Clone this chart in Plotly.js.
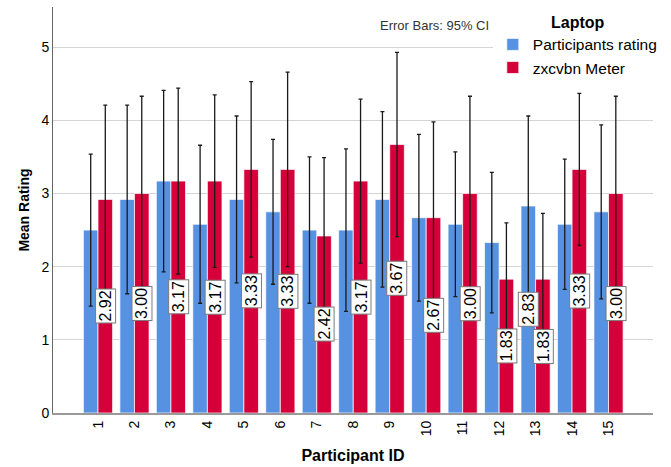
<!DOCTYPE html>
<html>
<head>
<meta charset="utf-8">
<script src="https://cdn.plot.ly/plotly-3.0.1.min.js"></script>
<style>
html,body{margin:0;padding:0;background:#fff;}
#chart{width:671px;height:467px;}
</style>
</head>
<body>
<div id="chart"></div>
<script>
const participantIds = [1,2,3,4,5,6,7,8,9,10,11,12,13,14,15];
const tickLabels = ["1","2","3","4","5","6","7","8","9","10","11","12","13","14","15"];
const participantsRating = [2.50,2.92,3.17,2.58,2.92,2.75,2.50,2.50,2.92,2.67,2.58,2.33,2.83,2.58,2.75];
const zxcvbnMeter = [2.92,3.00,3.17,3.17,3.33,3.33,2.42,3.17,3.67,2.67,3.00,1.83,1.83,3.33,3.00];
const participantsCI = [1.04,1.29,1.24,1.08,1.14,0.99,1.00,1.11,1.20,1.14,0.99,0.96,1.23,0.89,1.19];
const zxcvbnCI = [1.29,1.33,1.27,1.18,1.20,1.33,1.07,1.12,1.26,1.31,1.33,0.77,0.90,1.04,1.33];
const blueLabelIds = [13];

const FONT = '"Liberation Sans", Arial, sans-serif';
const blue = '#5792E2';
const red = '#D5003A';

const errStyle = {type:'data', visible:true, color:'#1a1a1a', thickness:1.3, width:2};

const traces = [
  {type:'bar', name:'Participants rating', x:participantIds, y:participantsRating,
   marker:{color:blue, line:{color:'rgba(255,255,255,0.7)', width:1}},
   error_y:Object.assign({array:participantsCI}, errStyle), hoverinfo:'none'},
  {type:'bar', name:'zxcvbn Meter', x:participantIds, y:zxcvbnMeter,
   marker:{color:red, line:{color:'rgba(255,255,255,0.7)', width:1}},
   error_y:Object.assign({array:zxcvbnCI}, errStyle), hoverinfo:'none'}
];

const bargap = 0.2;
const half = (1 - bargap) / 4; // centre offset of each bar in a group

function labelAnn(x, v){
  return {xref:'x', yref:'y', x:x, y:v/2, text:v.toFixed(2), showarrow:false,
    textangle:-90, bgcolor:'#ffffff', bordercolor:'#7a7a7a', borderwidth:1, borderpad:1,
    font:{family:FONT, size:16, color:'#000'}};
}
const annotations = [];
participantIds.forEach((id,i)=>{
  annotations.push(labelAnn(id + half, zxcvbnMeter[i]));
  if (blueLabelIds.includes(id)) annotations.push(labelAnn(id - half, participantsRating[i]));
});
annotations.push({xref:'paper', yref:'paper', x:0.5417, y:0.955, xanchor:'left', yanchor:'middle',
  text:'Error Bars: 95% CI', showarrow:false, font:{family:FONT, size:13, color:'#333'}});

const layout = {
  width:671, height:467,
  margin:{l:53, r:18, t:7, b:54, autoexpand:false},
  paper_bgcolor:'#fff', plot_bgcolor:'#fff',
  barmode:'group', bargap:bargap, bargroupgap:0,
  font:{family:FONT, color:'#000'},
  showlegend:true,
  legend:{x:0.733, xanchor:'left', y:1.0, yanchor:'top', bgcolor:'#fff',
    font:{family:FONT, size:15.5, color:'#000'},
    title:{text:'<b>Laptop</b>', side:'top center', font:{family:FONT, size:16, color:'#000'}},
    itemwidth:30, tracegroupgap:0},
  xaxis:{range:[-0.234, 16.22], tickmode:'array', tickvals:participantIds, ticktext:tickLabels,
    tickangle:-90, tickfont:{family:FONT, size:14, color:'#000'}, showgrid:false, zeroline:false,
    showline:true, linecolor:'#9a9a9a', linewidth:2, ticks:'', automargin:false,
    title:{text:'<b>Participant ID</b>', font:{family:FONT, size:16, color:'#000'}, standoff:15}},
  yaxis:{range:[0, 5.55], tickvals:[0,1,2,3,4,5], ticktext:['0','1','2','3','4','5'],
    tickfont:{family:FONT, size:14, color:'#000'}, showgrid:true, gridcolor:'#d4d4d4', gridwidth:1,
    zeroline:false, showline:true, linecolor:'#666', linewidth:1, ticks:'', automargin:false,
    title:{text:'<b>Mean Rating</b>', font:{family:FONT, size:14, color:'#000'}, standoff:8}},
  annotations:annotations
};

Plotly.newPlot('chart', traces, layout, {displayModeBar:false, staticPlot:true});
</script>
</body>
</html>
